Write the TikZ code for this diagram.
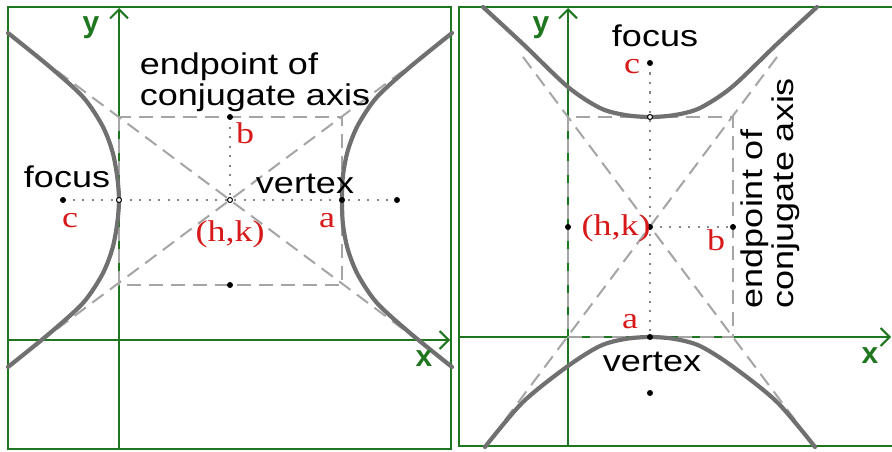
\documentclass[tikz,border=0pt]{standalone}
\usepackage{fontspec}
\setmainfont{Liberation Sans}
\newfontfamily\lblfont[FakeStretch=1.2]{Liberation Sans}
\newfontfamily\redfont[FakeStretch=1.2]{Liberation Serif}
\usetikzlibrary{arrows.meta}
\definecolor{gframe}{RGB}{30,118,30}
\definecolor{curvegray}{RGB}{112,112,112}
\definecolor{dashgray}{RGB}{165,165,165}
\definecolor{dotgray}{RGB}{135,135,135}
\definecolor{lblred}{RGB}{215,25,25}
\begin{document}
\begin{tikzpicture}[x=1pt,y=-1pt,
  frame/.style={draw=gframe, line width=2.2pt},
  axisline/.style={draw=gframe, line width=2pt, -{Straight Barb[length=9pt,width=18pt,line width=2pt]}},
  dashline/.style={draw=dashgray, line width=2pt, dash pattern=on 14pt off 8pt},
  dotline/.style={draw=dotgray, line width=2.2pt, dash pattern=on 2.2pt off 7.3pt},
  curve/.style={draw=curvegray, line width=4.2pt, line cap=round},
  fdot/.style={fill=black},
  odot/.style={draw=black, fill=white, line width=1pt},
  lbl/.style={font=\lblfont\fontsize{30}{31}\selectfont, inner sep=0pt},
  redlbl/.style={font=\redfont\fontsize{30}{30}\selectfont, text=lblred, inner sep=0pt},
  axlbl/.style={font=\bfseries\fontsize{30}{30}\selectfont, text=gframe, inner sep=0pt}
]
\useasboundingbox (0,0) rectangle (892,452);
\fill[white] (0,0) rectangle (892,452);

% ---------------- LEFT PANEL ----------------
\coordinate (Lc) at (230,200);
\coordinate (Ltl) at (119,117); \coordinate (Ltr) at (342,117);
\coordinate (Lbl) at (119,285); \coordinate (Lbr) at (342,285);
\coordinate (Lf1) at (63,200);  \coordinate (Lf2) at (397,200);
\coordinate (Lv1) at (119,200); \coordinate (Lv2) at (342,200);
\coordinate (Lb1) at (230,117); \coordinate (Lb2) at (230,285);
\coordinate (Ld1) at (57,71);   \coordinate (Ld2) at (415,338);
\coordinate (Ld3) at (57,329);  \coordinate (Ld4) at (415,62);

\draw[frame] (8,7) rectangle (451,449);
\coordinate (Lyb) at (119,449); \coordinate (Lyt) at (119,8);
\coordinate (Lxl) at (8,340);   \coordinate (Lxr) at (450,340);
\draw[axisline] (Lyb) -- (Lyt);
\draw[axisline] (Lxl) -- (Lxr);

\draw[dashline] (Ltl) rectangle (Lbr);
\draw[dashline] (Ld1) -- (Ld2);
\draw[dashline] (Ld3) -- (Ld4);
\draw[dotline] (Lf1) -- (Lf2);
\draw[dotline] (Lb1) -- (Lc);

\draw[curve] plot[smooth] coordinates {(8,33) (50,67) (83,97) (102,125) (112,150) (117,175) (119,200) (117,225) (112,250) (102,275) (83,303) (50,333) (8,367)};
\draw[curve] plot[smooth] coordinates {(452,33) (410,67) (377,97) (358,125) (348,150) (343,175) (342,200) (343,225) (348,250) (358,275) (377,303) (410,333) (452,367)};

\fill[fdot] (Lf1) circle (3);
\fill[fdot] (Lf2) circle (3);
\fill[fdot] (Lv2) circle (3);
\fill[fdot] (Lb1) circle (3);
\fill[fdot] (Lb2) circle (3);
\draw[odot] (Lv1) circle (2.5);
\draw[odot] (Lc) circle (2.5);

\node[axlbl] (Lylab) at (91,28) {y};
\node[axlbl] (Lxlab) at (424,359) {x};
\node[lbl, align=left] (Lendp) at (255,82) {endpoint of\\conjugate axis};
\node[lbl] (Lfocus) at (67,177) {focus};
\node[lbl] (Lvertex) at (305,184) {vertex};
\node[redlbl] (Lclab) at (70,221) {c};
\node[redlbl] (Lblab) at (245,133) {b};
\node[redlbl] (Lhk) at (230,234) {(h,k)};
\node[redlbl] (Lalab) at (327,221) {a};

% ---------------- RIGHT PANEL ----------------
\coordinate (Rc) at (650,227);
\coordinate (Rtl) at (568,117); \coordinate (Rtr) at (733,117);
\coordinate (Rbl) at (568,337); \coordinate (Rbr) at (733,337);
\coordinate (Rf1) at (650,63);  \coordinate (Rf2) at (650,393);
\coordinate (Rv1) at (650,117); \coordinate (Rv2) at (650,337);
\coordinate (Rb1) at (568,227); \coordinate (Rb2) at (733,227);
\coordinate (Rd1) at (523,57);  \coordinate (Rd2) at (795,420);
\coordinate (Rd3) at (777,57);  \coordinate (Rd4) at (505,420);

\draw[frame] (900,7) -- (459,7) -- (459,446) -- (900,446);
\coordinate (Ryb) at (568,446); \coordinate (Ryt) at (568,8);
\coordinate (Rxl) at (459,337); \coordinate (Rxr) at (891,337);
\draw[axisline] (Ryb) -- (Ryt);
\draw[axisline] (Rxl) -- (Rxr);

\draw[dashline] (Rtl) rectangle (Rbr);
\draw[dashline] (Rd1) -- (Rd2);
\draw[dashline] (Rd3) -- (Rd4);
\draw[dotline] (Rf1) -- (Rv2);
\draw[dotline] (Rc) -- (Rb2);

\draw[curve] plot[smooth] coordinates {(483,7) (523,44) (568,87) (600,108) (625,115) (650,117) (675,115) (700,108) (732,87) (777,44) (817,7)};
\draw[curve] plot[smooth] coordinates {(485,447) (523,402) (568,366) (600,346) (625,339) (650,337) (675,339) (700,346) (732,366) (777,402) (815,447)};

\fill[fdot] (Rf1) circle (3);
\fill[fdot] (Rf2) circle (3);
\fill[fdot] (Rc) circle (3);
\fill[fdot] (Rv2) circle (3);
\fill[fdot] (Rb1) circle (3);
\fill[fdot] (Rb2) circle (3);
\draw[odot] (Rv1) circle (2.5);

\node[axlbl] (Rylab) at (541,28) {y};
\node[axlbl] (Rxlab) at (870,356) {x};
\node[lbl, align=left, rotate=90] (Rendp) at (770,193) {endpoint of\\conjugate axis};
\node[lbl] (Rfocus) at (655,36) {focus};
\node[lbl] (Rvertex) at (652,362) {vertex};
\node[redlbl] (Rclab) at (632,67) {c};
\node[redlbl] (Rhk) at (616,228) {(h,k)};
\node[redlbl] (Rblab) at (716,240) {b};
\node[redlbl] (Ralab) at (630,322) {a};
\end{tikzpicture}
\end{document}
